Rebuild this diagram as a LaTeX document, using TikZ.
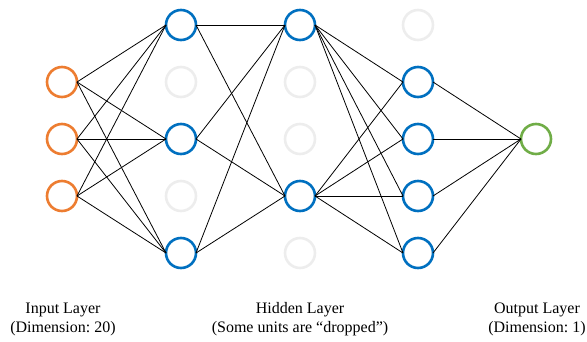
\documentclass[tikz,border=0pt]{standalone}
\usepackage{fontspec}
\setmainfont{Liberation Serif}
\frenchspacing
\definecolor{inorange}{HTML}{ED7D31}
\definecolor{hidblue}{HTML}{0070C0}
\definecolor{outgreen}{HTML}{70AD47}
\definecolor{dropgray}{HTML}{EDEDED}
\begin{document}
\begin{tikzpicture}[x=1pt,y=-1pt,
  unit/.style={circle,minimum size=30pt,inner sep=0pt,outer sep=0pt,line width=2.6pt,fill=white},
  inunit/.style={unit,draw=inorange},
  hidunit/.style={unit,draw=hidblue},
  outunit/.style={unit,draw=outgreen},
  dropunit/.style={unit,draw=dropgray},
  link/.style={draw=black,line width=0.8pt},
  caption/.style={align=center,font=\fontsize{16}{19.5}\selectfont,anchor=base}]
\useasboundingbox (0,0) rectangle (587,341);
% input layer
\node[inunit] (i1) at (62,82) {};
\node[inunit] (i2) at (62,139) {};
\node[inunit] (i3) at (62,196) {};
% first hidden layer
\node[hidunit] (a1) at (181,25) {};
\node[dropunit] (a2) at (181,82) {};
\node[hidunit] (a3) at (181,139) {};
\node[dropunit] (a4) at (181,196) {};
\node[hidunit] (a5) at (181,253) {};
% second hidden layer
\node[hidunit] (b1) at (300,25) {};
\node[dropunit] (b2) at (300,82) {};
\node[dropunit] (b3) at (300,139) {};
\node[hidunit] (b4) at (300,196) {};
\node[dropunit] (b5) at (300,253) {};
% third hidden layer
\node[dropunit] (c1) at (418,25) {};
\node[hidunit] (c2) at (418,82) {};
\node[hidunit] (c3) at (418,139) {};
\node[hidunit] (c4) at (418,196) {};
\node[hidunit] (c5) at (418,253) {};
% output layer
\node[outunit] (o1) at (536,139) {};
% connections
\foreach \s in {i1,i2,i3}
  \foreach \t in {a1,a3,a5}
    \draw[link] (\s.east) -- (\t.west);
\foreach \s in {a1,a3,a5}
  \foreach \t in {b1,b4}
    \draw[link] (\s.east) -- (\t.west);
\foreach \s in {b1,b4}
  \foreach \t in {c2,c3,c4,c5}
    \draw[link] (\s.east) -- (\t.west);
\foreach \s in {c2,c3,c4,c5}
  \draw[link] (\s.east) -- (o1.west);
% captions (base anchor sits on the last line)
\node[caption] (lin) at (63,332.5) {Input Layer\\(Dimension: 20)};
\node[caption] (lhid) at (300,332.5) {Hidden Layer\\(Some units are “dropped”)};
\node[caption] (lout) at (537,332.5) {Output Layer\\(Dimension: 1)};
\end{tikzpicture}
\end{document}
